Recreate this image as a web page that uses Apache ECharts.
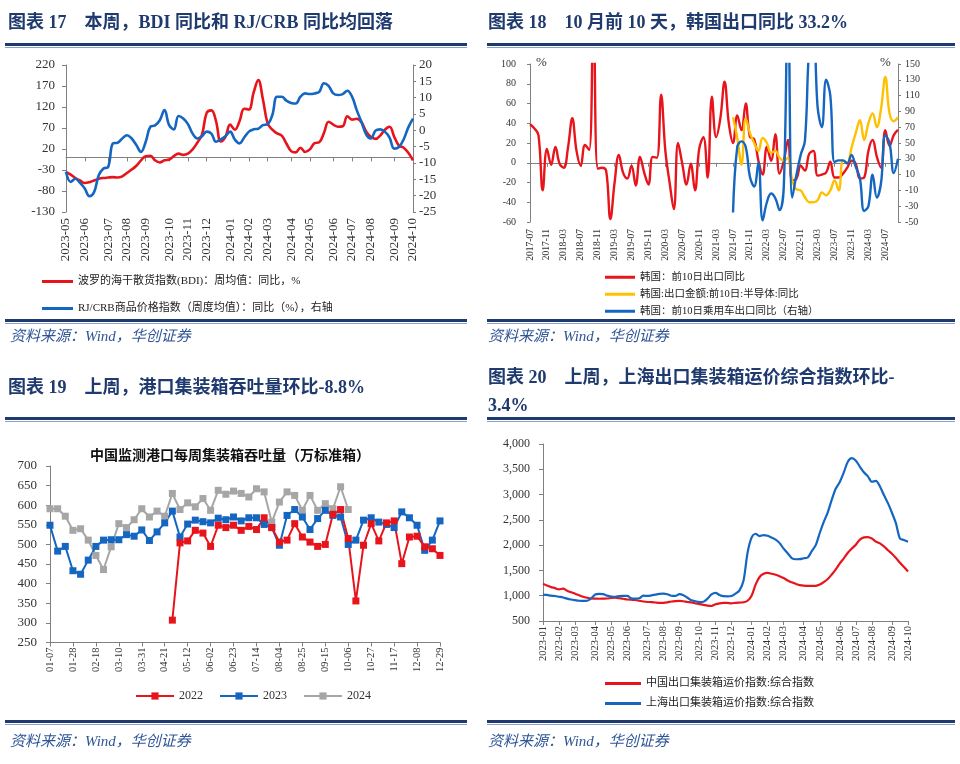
<!DOCTYPE html>
<html><head><meta charset="utf-8">
<script src="https://cdn.jsdelivr.net/npm/echarts@6/dist/echarts.min.js"></script>
<style>html,body{margin:0;padding:0;background:#fff}#c{width:960px;height:764px}</style>
</head><body><div id="c"></div>
<script>
// ---------- Chart 17: BDI & RJ/CRB (weekly from 2023-05-05) ----------
const bdiStart = [2023, 5, 5];
const bdiYoY = [-35,-41,-49,-55,-61,-59,-55,-51,-49,-48,-47,-48,-45,-37,-29,-20,-7,3,4,-7,-12,-7,-5,3,9,6,9,19,35,54,106,112,86,38,49,78,66,86,116,114,154,184,138,81,66,57,52,33,15,12,23,13,19,34,36,58,85,78,73,74,98,90,92,84,62,49,44,52,66,73,49,28,23,11,-7];
const crbYoY = [-12.7,-15.8,-14.8,-16.1,-17.8,-20.2,-18.9,-13.7,-11.7,-11.2,-4.0,-3.8,-2.5,-1.5,-2.5,-4.5,-6.6,-3.5,1.1,1.5,3.1,6.2,1.6,0.3,4.4,3.6,1.9,-1.0,-2.5,-1.8,-0.4,-1.0,-3.5,-2.8,-1.8,-0.4,-2.8,-4.0,-2.2,-0.4,0.3,0.5,1.6,1.9,4.7,10.3,10.3,9.1,8.4,8.2,10.3,11.3,11.1,11.3,11.8,14.4,13.6,11.3,10.8,11.1,12.1,10.3,6.2,2.6,-1.2,-2.5,-0.1,0.3,-0.4,-2.2,-5.6,-5.1,-2.8,0.9,3.6];

// ---------- Chart 18: Korea first-10-day exports (monthly 2017-07 .. 2024-10) ----------
const korMonths = ['2017-07','2017-08','2017-09','2017-10','2017-11','2017-12','2018-01','2018-02','2018-03','2018-04','2018-05','2018-06','2018-07','2018-08','2018-09','2018-10','2018-11','2018-12','2019-01','2019-02','2019-03','2019-04','2019-05','2019-06','2019-07','2019-08','2019-09','2019-10','2019-11','2019-12','2020-01','2020-02','2020-03','2020-04','2020-05','2020-06','2020-07','2020-08','2020-09','2020-10','2020-11','2020-12','2021-01','2021-02','2021-03','2021-04','2021-05','2021-06','2021-07','2021-08','2021-09','2021-10','2021-11','2021-12','2022-01','2022-02','2022-03','2022-04','2022-05','2022-06','2022-07','2022-08','2022-09','2022-10','2022-11','2022-12','2023-01','2023-02','2023-03','2023-04','2023-05','2023-06','2023-07','2023-08','2023-09','2023-10','2023-11','2023-12','2024-01','2024-02','2024-03','2024-04','2024-05','2024-06','2024-07','2024-08','2024-09','2024-10'];
const korExport = [39,35,28,-28,14,-2,16,-1,-5,16,45,12,-3,18,13,160,-6,-5,-8,-57,-20,8,-10,-16,-3,-23,6,-10,-22,6,5,69,12,-20,-47,20,-1,-22,-1,-28,14,26,-15,67,26,45,82,40,20,48,33,60,26,24,2,-12,16,2,29,-11,2,23,-18,-16,-3,-8,9,12,-13,-12,-10,1,-15,-15,-11,-5,2,-1,-16,-15,12,23,6,-5,33,17,28,33.2];
const korSemi = [null,null,null,null,null,null,null,null,null,null,null,null,null,null,null,null,null,null,null,null,null,null,null,null,null,null,null,null,null,null,null,null,null,null,null,null,null,null,null,null,null,null,null,null,null,null,null,null,46,25,-2,45,30,20,12,25,20,10,12,5,2,5,-18,-27,-28,-35,-40,-40,-38,-30,-33,-28,-18,-28,2,0,15,30,43,23,40,50,36,55,87,50,42,46];
const korCar = [null,null,null,null,null,null,null,null,null,null,null,null,null,null,null,null,null,null,null,null,null,null,null,null,null,null,null,null,null,null,null,null,null,null,null,null,null,null,null,null,null,null,null,null,null,null,null,null,-38,45,52,45,7,-5,25,-48,-25,-14,-20,-35,-5,250,-19,10,35,53,170,200,95,70,130,110,26,28,28,24,35,20,5,-36,-30,10,-19,0,60,50,12,30];

// ---------- Chart 19: weekly port container throughput ----------
const portWeeks = ['01-07','01-14','01-21','01-28','02-04','02-11','02-18','02-25','03-03','03-10','03-17','03-24','03-31','04-07','04-14','04-21','04-28','05-05','05-12','05-19','05-26','06-02','06-09','06-16','06-23','06-30','07-07','07-14','07-21','07-28','08-04','08-11','08-18','08-25','09-01','09-08','09-15','09-22','09-29','10-06','10-13','10-20','10-27','11-03','11-10','11-17','11-24','12-01','12-08','12-15','12-22','12-29'];
const port2022 = [null,null,null,null,null,null,null,null,null,null,null,null,null,null,null,null,307,504,509,536,529,495,549,543,549,536,546,538,568,543,506,511,553,519,506,495,500,577,589,515,356,498,553,509,555,560,451,519,521,494,489,472];
const port2023 = [549,483,495,433,424,460,495,511,512,512,525,521,537,510,532,555,585,519,552,562,558,555,567,563,570,560,568,568,551,543,498,574,589,570,538,566,587,574,570,500,511,562,568,557,551,543,583,568,549,485,511,560];
const port2024 = [591,591,572,536,540,511,472,436,494,553,543,563,591,570,585,572,630,589,606,596,617,587,638,628,636,630,621,642,634,557,608,634,625,587,625,587,604,591,647,589,null,null,null,null,null,null,null,null,null,null,null,null];

// ---------- Chart 20: container freight indices (weekly from 2023-01-06) ----------
const frStart = [2023, 1, 6];
const ccfi = [1239,1200,1170,1150,1125,1140,1100,1068,1040,1010,980,960,945,942,940,942,945,955,960,950,940,925,920,915,900,885,876,875,866,858,860,870,885,893,896,890,876,866,850,835,820,805,797,830,850,860,858,850,860,865,870,900,1000,1220,1370,1435,1450,1435,1415,1385,1350,1300,1265,1235,1210,1198,1193,1193,1195,1220,1270,1330,1420,1520,1640,1740,1850,1935,2010,2110,2155,2160,2131,2070,2035,1975,1900,1830,1745,1650,1570,1478];
const scfi = [1021,1015,1000,995,980,965,942,925,912,900,896,900,945,1025,1035,1030,1001,985,980,990,995,995,948,942,950,1000,995,1005,1020,1035,1041,1030,1000,995,1030,1010,960,909,890,876,880,940,1025,1058,1015,990,988,995,1041,1107,1300,1850,2150,2225,2180,2200,2185,2150,2110,2040,1930,1840,1745,1721,1722,1740,1755,1880,2000,2240,2460,2650,2900,3120,3250,3440,3650,3720,3670,3550,3440,3360,3254,3270,3160,2990,2830,2640,2430,2131,2100,2065];

// ---------- helpers ----------
function weekly(start, n) {
  const out = [];
  for (let i = 0; i < n; i++) {
    const t = new Date(Date.UTC(start[0], start[1] - 1, start[2] + 7 * i));
    out.push(t.toISOString().slice(0, 10));
  }
  return out;
}
const cat17 = weekly(bdiStart, bdiYoY.length);
const cat20 = weekly(frStart, ccfi.length);
function monthChange(cats) {
  return function (idx) { return idx === 0 || cats[idx].slice(0, 7) !== cats[idx - 1].slice(0, 7); };
}
const mon17 = monthChange(cat17), mon20 = monthChange(cat20);
const every4 = function (idx) { return idx % 4 === 0; };
const every3 = function (idx) { return idx % 3 === 0; };

const SERIF = '"Liberation Serif","Noto Sans CJK SC",serif';
const NAVY = '#1F3A6E';
const AX = '#808080';
const RED = '#E8141B', BLUE = '#1466C0', YELLOW = '#FFC000', GRAY = '#A6A6A6';
const lbl = (size, extra) => Object.assign({ fontFamily: SERIF, fontSize: size, color: '#333' }, extra || {});

function rule(x1, x2, y) {
  return [
    { type: 'rect', shape: { x: x1, y: y, width: x2 - x1, height: 3 }, style: { fill: NAVY } },
    { type: 'rect', shape: { x: x1, y: y + 4, width: x2 - x1, height: 1 }, style: { fill: '#8EA2C8' } }
  ];
}
function txt(x, y, text, font, fill, align) {
  return { type: 'text', x: x, y: y, style: { text: text, font: font, fill: fill, align: align || 'left', verticalAlign: 'middle' } };
}
const TFONT = 'bold 18px ' + SERIF;
const SFONT = 'italic 15px ' + SERIF;

const chart = echarts.init(document.getElementById('c'), null, { renderer: 'canvas' });
chart.setOption({
  animation: false,
  backgroundColor: '#fff',
  graphic: [].concat(
    [txt(8, 23, '图表 17    本周，BDI 同比和 RJ/CRB 同比均回落', TFONT, NAVY),
     txt(488, 23, '图表 18    10 月前 10 天，韩国出口同比 33.2%', TFONT, NAVY),
     txt(8, 388, '图表 19    上周，港口集装箱吞吐量环比-8.8%', TFONT, NAVY),
     txt(488, 378, '图表 20    上周，上海出口集装箱运价综合指数环比-', TFONT, NAVY),
     txt(488, 406, '3.4%', TFONT, NAVY),
     txt(230, 455, '中国监测港口每周集装箱吞吐量（万标准箱）', 'bold 14px "Noto Sans CJK SC"', '#111', 'center'),
     txt(536, 63, '%', '13px ' + SERIF, '#333'),
     txt(880, 63, '%', '13px ' + SERIF, '#333'),
     txt(10, 337, '资料来源：Wind，华创证券', SFONT, '#2F5597'),
     txt(488, 337, '资料来源：Wind，华创证券', SFONT, '#2F5597'),
     txt(10, 742, '资料来源：Wind，华创证券', SFONT, '#2F5597'),
     txt(488, 742, '资料来源：Wind，华创证券', SFONT, '#2F5597')],
    rule(5, 467, 43), rule(487, 955, 43),
    rule(5, 467, 319), rule(487, 955, 319),
    rule(5, 467, 417), rule(487, 955, 417),
    rule(5, 467, 720), rule(487, 955, 720)
  ),
  grid: [
    { left: 66, top: 65, width: 347, height: 147 },
    { left: 530, top: 64, width: 368, height: 158 },
    { left: 50, top: 466, width: 390, height: 176.5 },
    { left: 543, top: 444, width: 365, height: 177 }
  ],
  legend: [
    { data: ['波罗的海干散货指数(BDI)：周均值：同比，%', 'RJ/CRB商品价格指数（周度均值）：同比（%），右轴'],
      orient: 'vertical', left: 37, top: 271, itemWidth: 31, itemHeight: 3, itemGap: 16, icon: 'rect',
      textStyle: { fontFamily: SERIF, fontSize: 11, color: '#222' } },
    { data: ['韩国：前10日出口同比', '韩国:出口金额:前10日:半导体:同比', '韩国：前10日乘用车出口同比（右轴）'],
      orient: 'vertical', left: 600, top: 267, itemWidth: 30, itemHeight: 3, itemGap: 6.5, icon: 'rect',
      textStyle: { fontFamily: SERIF, fontSize: 10.5, color: '#222' } },
    { data: ['2022', '2023', '2024'], orient: 'horizontal', left: 130, top: 685, itemWidth: 38, itemHeight: 9, itemGap: 16,
      textStyle: { fontFamily: SERIF, fontSize: 12, color: '#333' } },
    { data: ['中国出口集装箱运价指数:综合指数', '上海出口集装箱运价指数:综合指数'],
      orient: 'vertical', left: 600, top: 673, itemWidth: 36, itemHeight: 3, itemGap: 9, icon: 'rect',
      textStyle: { fontFamily: SERIF, fontSize: 11, color: '#222' } }
  ],
  xAxis: [
    { type: 'category', gridIndex: 0, data: cat17, boundaryGap: false, position: 'bottom',
      axisLine: { show: false, onZero: false }, axisTick: { show: false },
      axisLabel: lbl(13, { interval: mon17, rotate: 90, margin: 6, formatter: v => v.slice(0, 7) }) },
    { type: 'category', gridIndex: 0, data: cat17, boundaryGap: false, position: 'bottom',
      axisLine: { show: true, onZero: true, onZeroAxisIndex: 0, lineStyle: { color: AX, width: 1 } },
      axisTick: { show: true, interval: mon17, length: 4, lineStyle: { color: AX } }, axisLabel: { show: false } },
    { type: 'category', gridIndex: 1, data: korMonths, boundaryGap: false, position: 'bottom',
      axisLine: { show: false, onZero: false }, axisTick: { show: false },
      axisLabel: lbl(9.5, { interval: every4, rotate: 90, margin: 7 }) },
    { type: 'category', gridIndex: 1, data: korMonths, boundaryGap: false, position: 'bottom',
      axisLine: { show: true, onZero: true, onZeroAxisIndex: 2, lineStyle: { color: AX, width: 1 } },
      axisTick: { show: true, interval: every4, length: 4, lineStyle: { color: AX } }, axisLabel: { show: false } },
    { type: 'category', gridIndex: 2, data: portWeeks, boundaryGap: false, position: 'bottom',
      axisLine: { show: true, onZero: false, lineStyle: { color: AX } },
      axisTick: { show: true, interval: every3, length: 4, lineStyle: { color: AX } },
      axisLabel: lbl(10.5, { interval: every3, rotate: 90, margin: 5 }) },
    { type: 'category', gridIndex: 3, data: cat20, boundaryGap: false, position: 'bottom',
      axisLine: { show: true, onZero: false, lineStyle: { color: AX } },
      axisTick: { show: true, interval: mon20, length: 4, lineStyle: { color: AX } },
      axisLabel: lbl(10.5, { interval: mon20, rotate: 90, margin: 5, formatter: v => v.slice(0, 7) }) }
  ],
  yAxis: [
    { type: 'value', gridIndex: 0, position: 'left', min: -130, max: 220, interval: 50, splitLine: { show: false },
      axisLine: { show: true, lineStyle: { color: AX } }, axisTick: { show: true, length: 4, lineStyle: { color: AX } },
      axisLabel: lbl(13, { margin: 11 }) },
    { type: 'value', gridIndex: 0, position: 'right', min: -25, max: 20, interval: 5, splitLine: { show: false },
      axisLine: { show: true, lineStyle: { color: AX } }, axisTick: { show: true, length: 3, lineStyle: { color: AX } },
      axisLabel: lbl(13, { margin: 6 }) },
    { type: 'value', gridIndex: 1, position: 'left', min: -60, max: 100, interval: 20, splitLine: { show: false },
      axisLine: { show: true, lineStyle: { color: AX } }, axisTick: { show: true, length: 3, lineStyle: { color: AX } },
      axisLabel: lbl(10, { margin: 14 }) },
    { type: 'value', gridIndex: 1, position: 'right', min: -50, max: 150, interval: 20, splitLine: { show: false },
      axisLine: { show: true, lineStyle: { color: AX } }, axisTick: { show: true, length: 3, lineStyle: { color: AX } },
      axisLabel: lbl(10, { margin: 7 }) },
    { type: 'value', gridIndex: 2, min: 250, max: 700, interval: 50, splitLine: { show: false },
      axisLine: { show: true, lineStyle: { color: AX } }, axisTick: { show: true, length: 4, lineStyle: { color: AX } },
      axisLabel: lbl(13, { margin: 13 }) },
    { type: 'value', gridIndex: 3, min: 500, max: 4000, interval: 500, splitLine: { show: false },
      axisLine: { show: true, lineStyle: { color: AX } }, axisTick: { show: true, length: 4, lineStyle: { color: AX } },
      axisLabel: lbl(12, { margin: 13, formatter: v => v.toLocaleString('en-US') }) }
  ],
  series: [
    { name: '波罗的海干散货指数(BDI)：周均值：同比，%', type: 'line', xAxisIndex: 0, yAxisIndex: 0, data: bdiYoY,
      smooth: 0.4, showSymbol: false, color: RED, lineStyle: { width: 2.6, color: RED } },
    { name: 'RJ/CRB商品价格指数（周度均值）：同比（%），右轴', type: 'line', xAxisIndex: 0, yAxisIndex: 1, data: crbYoY,
      smooth: 0.4, showSymbol: false, color: BLUE, lineStyle: { width: 2.6, color: BLUE } },
    { name: '韩国：前10日出口同比', type: 'line', xAxisIndex: 2, yAxisIndex: 2, data: korExport,
      smooth: 0.4, showSymbol: false, color: RED, lineStyle: { width: 2.4, color: RED } },
    { name: '韩国:出口金额:前10日:半导体:同比', type: 'line', xAxisIndex: 2, yAxisIndex: 2, data: korSemi,
      smooth: 0.4, showSymbol: false, color: YELLOW, lineStyle: { width: 2.4, color: YELLOW } },
    { name: '韩国：前10日乘用车出口同比（右轴）', type: 'line', xAxisIndex: 2, yAxisIndex: 3, data: korCar,
      smooth: 0.4, showSymbol: false, color: BLUE, lineStyle: { width: 2.4, color: BLUE } },
    { name: '2024', type: 'line', xAxisIndex: 4, yAxisIndex: 4, data: port2024, symbol: 'rect', symbolSize: 7, showAllSymbol: true,
      color: GRAY, itemStyle: { color: GRAY }, lineStyle: { width: 2, color: GRAY } },
    { name: '2023', type: 'line', xAxisIndex: 4, yAxisIndex: 4, data: port2023, symbol: 'rect', symbolSize: 7, showAllSymbol: true,
      color: BLUE, itemStyle: { color: BLUE }, lineStyle: { width: 2, color: BLUE } },
    { name: '2022', type: 'line', xAxisIndex: 4, yAxisIndex: 4, data: port2022, symbol: 'rect', symbolSize: 7, showAllSymbol: true,
      color: RED, itemStyle: { color: RED }, lineStyle: { width: 2, color: RED } },
    { name: '中国出口集装箱运价指数:综合指数', type: 'line', xAxisIndex: 5, yAxisIndex: 5, data: ccfi,
      smooth: 0.3, showSymbol: false, color: RED, lineStyle: { width: 2.2, color: RED } },
    { name: '上海出口集装箱运价指数:综合指数', type: 'line', xAxisIndex: 5, yAxisIndex: 5, data: scfi,
      smooth: 0.3, showSymbol: false, color: BLUE, lineStyle: { width: 2.2, color: BLUE } }
  ]
});
</script></body></html>
